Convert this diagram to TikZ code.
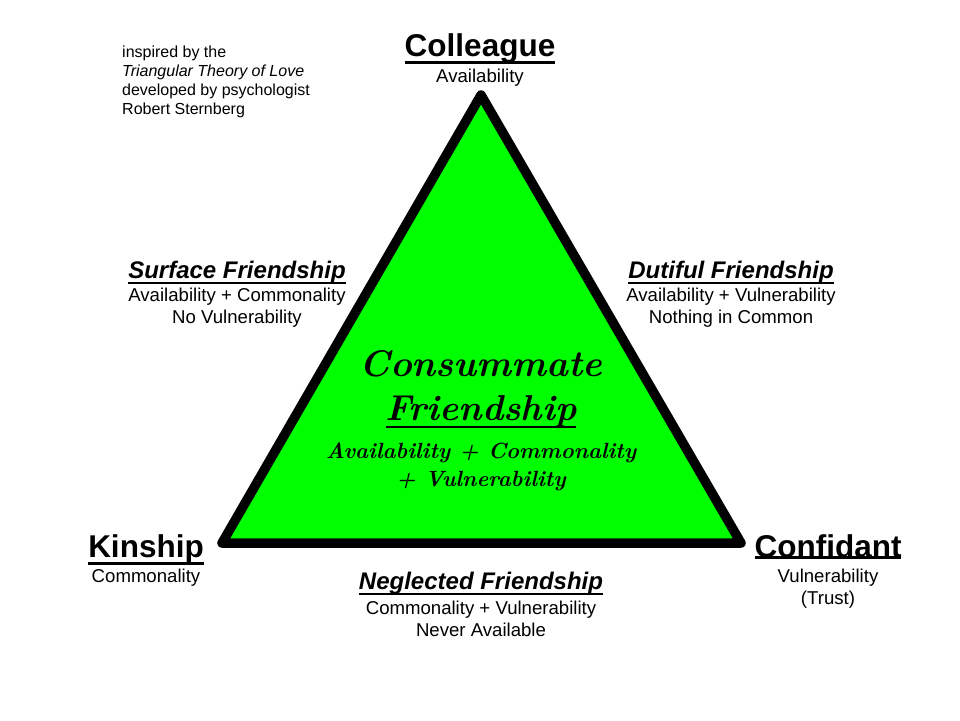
\documentclass[tikz,border=0pt]{standalone}
\usepackage{fontspec}
\newfontfamily\arialfont{Liberation Sans}
\usetikzlibrary{calc}

\definecolor{trigreen}{RGB}{0,255,0}

% thick underline that sits just below the text
\newcommand{\thickul}[2][2.5pt]{%
	\setbox0=\hbox{#2}%
	\rlap{\copy0}\rule[\dimexpr-\dp0-1.5pt\relax]{\wd0}{#1}}

\tikzset{
	vertexlabel/.style={font=\arialfont\bfseries\fontsize{31.5}{34}\selectfont, anchor=base, inner sep=0pt},
	sidelabel/.style={font=\arialfont\bfseries\itshape\fontsize{24}{28}\selectfont, anchor=base, inner sep=0pt},
	desc/.style={font=\arialfont\fontsize{18.6}{22}\selectfont, anchor=base, inner sep=0pt, align=center},
	handtext/.style={font=\bfseries\itshape, anchor=base, inner sep=0pt}
}

\begin{document}
\begin{tikzpicture}[x=1pt,y=-1pt]
	
	% ---- (A) corners of the triangle (pixel coordinates) ----
	\def\topx{481}
	\def\topy{95}
	\def\botl{222}
	\def\botr{741}
	\def\boty{543}
	
	% page size
	\useasboundingbox (0,0) rectangle (960,720);
	
	\coordinate (apex) at (\topx,\topy);
	\coordinate (left) at (\botl,\boty);
	\coordinate (right) at (\botr,\boty);
	
	% ---- (B) the green triangle ----
	\filldraw[fill=trigreen, line width=9.5pt, line join=round]
	(apex) -- (left) -- (right) -- cycle;
	
	% ---- (C) note in the corner (base = last line) ----
	\node[anchor=base west, inner sep=0pt, align=left,
	font=\arialfont\fontsize{16}{18.7}\selectfont] (note) at (122,114)
	{inspired by the\\ \textit{Triangular Theory of Love}\\ developed by psychologist\\ Robert Sternberg};
	
	% ---- (D) corners ----
	\node[vertexlabel] (colleague) at (480,56) {\thickul[3pt]{Colleague}};
	\node[desc] (colleaguetxt) at (480,82) {Availability};
	
	\node[vertexlabel] (kinship) at (146,557) {\thickul[3pt]{Kinship}};
	\node[desc] (kinshiptxt) at (146,582) {Commonality};
	
	\node[vertexlabel] (confidant) at (828,557) {\thickul[3pt]{Confidant}};
	\node[desc] (confidanttxt) at (828,604) {Vulnerability\\(Trust)};
	
	% ---- (E) sides ----
	\node[sidelabel] (surface) at (237,278) {\thickul[2pt]{Surface Friendship}};
	\node[desc] (surfacetxt) at (237,323) {Availability + Commonality\\No Vulnerability};
	
	\node[sidelabel] (dutiful) at (731,278) {\thickul[2pt]{Dutiful Friendship}};
	\node[desc] (dutifultxt) at (731,323) {Availability + Vulnerability\\Nothing in Common};
	
	\node[sidelabel] (neglected) at (481,589) {\thickul[2pt]{Neglected Friendship}};
	\node[desc] (neglectedtxt) at (481,636) {Commonality + Vulnerability\\Never Available};
	
	% ---- (F) inside the triangle ----
	\node[handtext, font=\bfseries\itshape\fontsize{37}{44}\selectfont] (consummate) at (481,376) {Consummate};
	\node[handtext, font=\bfseries\itshape\fontsize{36}{44}\selectfont] (friendship) at (481,420) {\thickul[2.5pt]{Friendship}};
	\node[handtext, align=center, font=\bfseries\itshape\fontsize{22}{28}\selectfont] (consummatetxt) at (481,486)
	{Availability + Commonality\\+ Vulnerability};
	
\end{tikzpicture}
\end{document}
